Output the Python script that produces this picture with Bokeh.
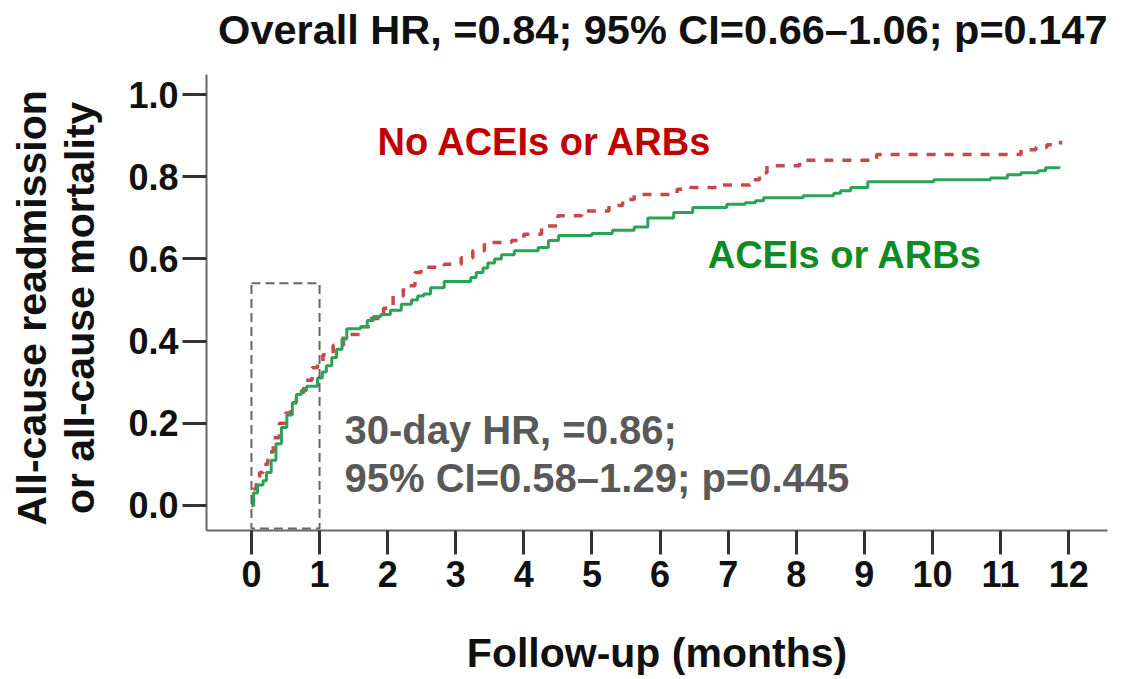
from bokeh.plotting import figure
from bokeh.models import Label, BoxAnnotation, FixedTicker, PrintfTickFormatter, Range1d
from bokeh.embed import file_html
from bokeh.resources import INLINE

# ---- data ----
green_t = [0, 0.03, 0.09, 0.17, 0.22, 0.29, 0.36, 0.44, 0.52, 0.6, 0.66, 0.73, 0.81, 0.97, 1.04,
           1.1, 1.18, 1.25, 1.33, 1.4, 1.6, 1.7, 1.79, 1.9, 2.04, 2.2, 2.35, 2.44, 2.53, 2.63,
           2.83, 3.22, 3.3, 3.4, 3.47, 3.57, 3.67, 3.86, 4.21, 4.36, 4.51, 5.0, 5.3, 5.62,
           5.82, 6.2, 6.48, 6.98, 7.25, 7.4, 7.52, 8.1, 8.55, 8.65, 8.8, 9.05, 10.02, 10.85,
           11.1, 11.3, 11.55, 11.66, 11.86]
green_v = [0.0, 0.03, 0.05, 0.06, 0.08, 0.11, 0.15, 0.19, 0.22, 0.25, 0.27, 0.28, 0.29, 0.31, 0.325,
           0.34, 0.36, 0.38, 0.405, 0.43, 0.435, 0.45, 0.46, 0.465, 0.475, 0.49, 0.50, 0.51, 0.515, 0.53,
           0.545, 0.555, 0.567, 0.578, 0.59, 0.60, 0.61, 0.62, 0.628, 0.645, 0.657, 0.662, 0.67, 0.678,
           0.70, 0.713, 0.725, 0.733, 0.737, 0.742, 0.749, 0.754, 0.76, 0.766, 0.774, 0.788, 0.793, 0.797,
           0.805, 0.81, 0.815, 0.822, 0.825]

red_t = [0, 0.03, 0.07, 0.12, 0.17, 0.24, 0.32, 0.41, 0.5, 0.58, 0.66, 0.77, 0.89, 0.97, 1.05,
         1.2, 1.35, 1.6, 1.75, 1.94, 2.08, 2.23, 2.4, 2.49, 2.83, 3.08, 3.25, 3.42, 3.82, 4.0,
         4.26, 4.5, 4.85, 5.25, 5.45, 5.62, 6.25, 6.45, 6.88, 7.32, 7.46, 7.57, 8.05, 9.18,
         11.3, 11.52, 11.68, 11.88]
red_v = [0.0, 0.04, 0.06, 0.08, 0.10, 0.13, 0.165, 0.20, 0.225, 0.25, 0.275, 0.305, 0.335, 0.35, 0.367,
         0.39, 0.416, 0.435, 0.455, 0.48, 0.51, 0.535, 0.567, 0.58, 0.587, 0.603, 0.62, 0.64, 0.645, 0.66,
         0.68, 0.705, 0.717, 0.73, 0.745, 0.757, 0.77, 0.774, 0.78, 0.793, 0.81, 0.827, 0.84, 0.854,
         0.866, 0.872, 0.878, 0.888]

x_ticks = list(range(0, 13))
y_ticks = [0.0, 0.2, 0.4, 0.6, 0.8, 1.0]
thirty_day_window = (0, 1)   # months

title_text = "Overall HR, =0.84; 95% CI=0.66\u20131.06; p=0.147"
group_no = "No ACEIs or ARBs"
group_yes = "ACEIs or ARBs"
hr30_line1 = "30-day HR, =0.86;"
hr30_line2 = "95% CI=0.58\u20131.29; p=0.445"
y_title = ["All-cause readmission", "or all-cause mortality"]
x_title = "Follow-up (months)"

FONT = "Liberation Sans"
RED_TXT = "#C00000"
RED_LINE = "#C9474A"
GREEN_TXT = "#0E8C23"
GREEN_LINE = "#2BA356"
GRAY_TXT = "#595959"

p = figure(width=1117, height=678, output_backend="svg", toolbar_location=None, title=None,
           x_range=Range1d(-0.66, 12.57), y_range=Range1d(-0.061, 1.217),
           min_border_left=206, min_border_right=10, min_border_top=5, min_border_bottom=148)
p.outline_line_color = None
p.xgrid.visible = False
p.ygrid.visible = False
p.background_fill_color = "white"
p.border_fill_color = "white"

for ax in (p.xaxis[0], p.yaxis[0]):
    ax.axis_line_color = "#666666"
    ax.axis_line_width = 2
    ax.major_tick_line_color = "#333333"
    ax.major_tick_line_width = 3
    ax.major_tick_in = 0
    ax.major_tick_out = 24
    ax.minor_tick_line_color = None
    ax.major_label_text_font = FONT
    ax.major_label_text_font_style = "bold"
    ax.major_label_text_font_size = "36px"
    ax.major_label_text_color = "#111111"
    ax.axis_label_text_font = FONT
    ax.axis_label_text_font_style = "bold"
    ax.axis_label_text_font_size = "41px"
    ax.axis_label_text_color = "#111111"

p.xaxis.ticker = FixedTicker(ticks=x_ticks)
p.yaxis.ticker = FixedTicker(ticks=y_ticks)
p.yaxis.bounds = (-0.061, 1.049)
p.yaxis.formatter = PrintfTickFormatter(format="%.1f")
p.xaxis.major_label_standoff = 6
p.yaxis.major_label_standoff = 4
p.xaxis.axis_label = x_title
p.xaxis.axis_label_standoff = 40
# trailing no-break spaces push the rotated label down to sit centred on the axis line
pad = "\u00a0" * 7
p.yaxis.axis_label = "\n".join(t + pad for t in y_title)
p.yaxis.axis_label_standoff = 22
p.yaxis.axis_label_text_line_height = 1.05

# curves
p.step(red_t, red_v, mode="after", line_color=RED_LINE, line_width=3.5, line_dash="9 9")
p.step(green_t, green_v, mode="after", line_color=GREEN_LINE, line_width=3)

# 30-day window box
box = BoxAnnotation(left=thirty_day_window[0], right=thirty_day_window[1], bottom=-0.056, top=0.541,
                    fill_alpha=0, line_color="#666666", line_alpha=1.0, line_width=2, line_dash="9 5")
p.add_layout(box)

def lab(x, y, text, size, color, align="left"):
    p.add_layout(Label(x=x, y=y, text=text, text_font=FONT, text_font_style="bold",
                       text_font_size=size, text_color=color, text_align=align,
                       text_baseline="middle"))

lab(6.04, 1.159, title_text, "41.5px", "#111111", align="center")
lab(1.85, 0.885, group_no, "38px", RED_TXT)
lab(6.70, 0.61, group_yes, "38px", GREEN_TXT)
lab(1.366, 0.183, hr30_line1, "40px", GRAY_TXT)
lab(1.366, 0.066, hr30_line2, "40px", GRAY_TXT)

open("out.html", "w").write(file_html(p, INLINE))
